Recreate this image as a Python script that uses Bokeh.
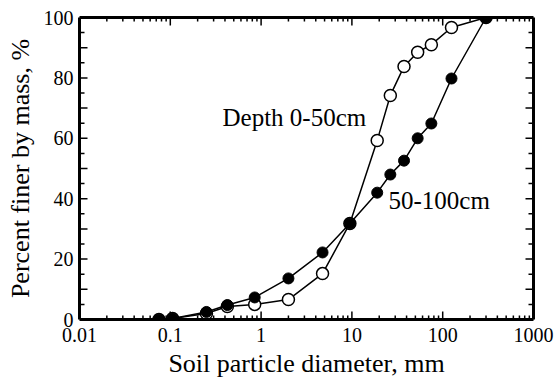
import math
from bokeh.plotting import figure
from bokeh.models import (FixedTicker, LogAxis, LinearAxis, Label, Range1d,
                          CustomJSTickFormatter)
from bokeh.embed import file_html
from bokeh.resources import INLINE

# ---- data ----
sieve_mm = [0.075, 0.106, 0.25, 0.425, 0.85, 2, 4.75, 9.5, 19, 26.5, 37.5, 53, 75, 125, 300]
finer_0_50 = [0, 0.3, 2.0, 4.3, 5.0, 6.6, 15.2, 31.8, 59.3, 74.2, 83.8, 88.5, 91.0, 96.7, 100]
finer_50_100 = [0, 0.3, 2.5, 4.8, 7.3, 13.6, 22.2, 31.8, 42.0, 48.0, 52.6, 60.0, 64.9, 79.8, 100]

x_ticks = [0.01, 0.1, 1, 10, 100, 1000]
x_tick_labels = ["0.01", "0.1", "1", "10", "100", "1000"]
y_ticks = [0, 10, 20, 30, 40, 50, 60, 70, 80, 90, 100]
y_tick_labels = ["0", "", "20", "", "40", "", "60", "", "80", "", "100"]

X_MIN, X_MAX = 0.01, 1000
Y_MIN, Y_MAX = 0, 100

FONT = "Liberation Serif"

x_minor = [m * d for d in x_ticks[:-1] for m in range(2, 10)]
y_minor = [t + 5 for t in y_ticks[:-1]]

p = figure(width=558, height=381, x_axis_type="log",
           x_range=Range1d(X_MIN, X_MAX), y_range=Range1d(Y_MIN, Y_MAX),
           output_backend="svg", toolbar_location=None,
           min_border_left=79, min_border_right=25,
           min_border_top=17, min_border_bottom=62)
p.xgrid.visible = False
p.ygrid.visible = False
p.outline_line_color = None
p.background_fill_color = "white"
p.border_fill_color = "white"

xt = FixedTicker(ticks=x_ticks, minor_ticks=x_minor)
yt = FixedTicker(ticks=y_ticks, minor_ticks=y_minor)


def style(ax):
    ax.axis_line_width = 3
    ax.axis_line_color = "black"
    ax.major_tick_in = 0
    ax.major_tick_out = 0
    ax.minor_tick_in = 0
    ax.minor_tick_out = 0
    ax.major_tick_line_color = None
    ax.minor_tick_line_color = None
    ax.major_label_text_font = FONT
    ax.major_label_text_font_size = "20px"
    ax.major_label_text_color = "black"
    ax.axis_label_text_font = FONT
    ax.axis_label_text_font_size = "26px"
    ax.axis_label_text_font_style = "normal"
    ax.axis_label_text_color = "black"


xa = p.xaxis[0]
xa.ticker = xt
xa.major_label_overrides = dict(zip(x_ticks, x_tick_labels))
xa.axis_label = "Soil particle diameter, mm"
style(xa)
xa.major_label_standoff = 8
xa.axis_label_standoff = 4

ya = p.yaxis[0]
ya.ticker = yt
ya.major_label_overrides = dict(zip(y_ticks, y_tick_labels))
ya.axis_label = "Percent finer by mass, %"
style(ya)
ya.major_label_standoff = 6
ya.axis_label_standoff = 6

blank = CustomJSTickFormatter(code="return ''")
top = LogAxis(ticker=xt, formatter=blank)
style(top)
top.major_label_standoff = 0
p.add_layout(top, "above")
right = LinearAxis(ticker=yt, formatter=blank)
style(right)
right.major_label_standoff = 0
p.add_layout(right, "right")

# inward tick marks (screen-length rays from the frame edges)
tick_kw = dict(line_color="black", line_width=1.5, length_units="screen")
n_x, n_xm = len(x_ticks), len(x_minor)
n_y, n_ym = len(y_ticks), len(y_minor)
p.ray(x=x_ticks, y=[Y_MIN] * n_x, length=8, angle=math.pi / 2, **tick_kw)
p.ray(x=x_minor, y=[Y_MIN] * n_xm, length=4, angle=math.pi / 2, **tick_kw)
p.ray(x=x_ticks, y=[Y_MAX] * n_x, length=8, angle=-math.pi / 2, **tick_kw)
p.ray(x=x_minor, y=[Y_MAX] * n_xm, length=4, angle=-math.pi / 2, **tick_kw)
p.ray(x=[X_MIN] * n_y, y=y_ticks, length=8, angle=0, **tick_kw)
p.ray(x=[X_MIN] * n_ym, y=y_minor, length=5, angle=0, **tick_kw)
p.ray(x=[X_MAX] * n_y, y=y_ticks, length=8, angle=math.pi, **tick_kw)
p.ray(x=[X_MAX] * n_ym, y=y_minor, length=5, angle=math.pi, **tick_kw)

# series
p.line(sieve_mm, finer_0_50, line_color="black", line_width=1.5)
p.scatter(sieve_mm, finer_0_50, size=12, marker="circle",
          fill_color="white", line_color="black", line_width=1.5)
p.line(sieve_mm, finer_50_100, line_color="black", line_width=1.5)
p.scatter(sieve_mm, finer_50_100, size=11, marker="circle",
          fill_color="black", line_color="black", line_width=1)

p.add_layout(Label(x=0.376, y=67.0, text="Depth 0-50cm", text_font=FONT,
                   text_font_size="25px", text_color="black",
                   text_baseline="alphabetic"))
p.add_layout(Label(x=25.3, y=39.3, text="50-100cm", text_font=FONT,
                   text_font_size="25px", text_color="black",
                   text_baseline="alphabetic"))

open("out.html", "w").write(file_html(p, INLINE))
